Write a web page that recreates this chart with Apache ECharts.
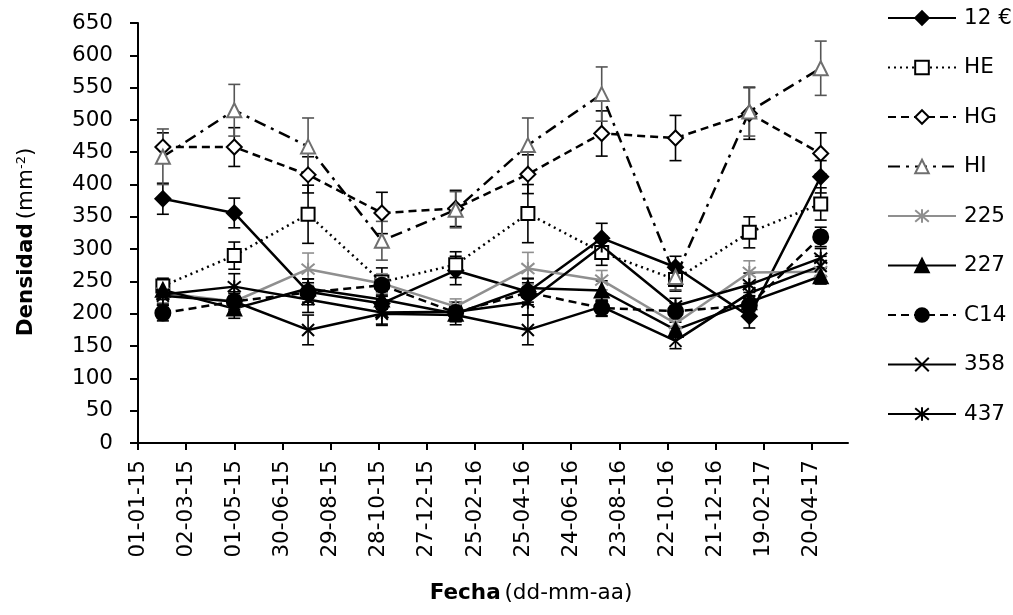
<!DOCTYPE html>
<html><head><meta charset="utf-8">
<script src="https://cdn.jsdelivr.net/npm/echarts@6/dist/echarts.min.js"></script>
<style>html,body{margin:0;padding:0;background:#fff}#c{width:1013px;height:615px}</style>
</head><body><div id="c"></div>
<script>
// ---- data ----
const sampleDates = ['2015-02-01','2015-05-01','2015-08-01','2015-11-01','2016-02-01','2016-05-01','2016-08-01','2016-11-01','2017-02-01','2017-05-01'];
const tickLabels = ['01-01-15','02-03-15','01-05-15','30-06-15','29-08-15','28-10-15','27-12-15','25-02-16','25-04-16','24-06-16','23-08-16','22-10-16','21-12-16','19-02-17','20-04-17'];
const yTicks = [0,50,100,150,200,250,300,350,400,450,500,550,600,650];

const v12  = [378, 356, 234, 216, 267, 234, 317, 272, 196, 412];
const vHE  = [243, 290, 354, 249, 276, 355, 295, 253, 326, 370];
const vHG  = [458, 458, 415, 356, 363, 416, 479, 472, 510, 448];
const vHI  = [443, 515, 459, 313, 361, 461, 540, 257, 513, 580];
const v225 = [232, 219, 269, 247, 211, 270, 252, 185, 264, 265];
const v227 = [237, 208, 239, 222, 200, 240, 236, 175, 218, 258];
const vC14 = [201, 219, 233, 244, 202, 233, 209, 204, 213, 319];
const v358 = [228, 219, 175, 200, 198, 175, 211, 158, 232, 274];
const v437 = [230, 242, 222, 202, 203, 218, 305, 212, 245, 286];

const e12  = [24, 23, 20, 18, 22, 20, 23, 17, 18, 25];
const eHE  = [12, 21, 45, 22, 20, 45, 20, 18, 24, 25];
const eHG  = [22, 30, 28, 32, 28, 30, 35, 35, 40, 32];
const eHI  = [43, 40, 44, 30, 28, 42, 42, 20, 38, 42];
const e225 = [15, 15, 25, 15, 12, 25, 15, 12, 18, 15];
const e227 = [15, 15, 15, 15, 12, 15, 15, 12, 15, 12];
const eC14 = [12, 12, 15, 15, 12, 15, 12, 12, 15, 15];
const e358 = [15, 15, 23, 18, 15, 23, 15, 12, 15, 15];
const e437 = [15, 20, 20, 18, 15, 20, 15, 12, 18, 15];

// ---- helpers ----
const DAY = 86400000;
const ORIGIN = Date.UTC(2015, 0, 1);
function isoDay(s){ const [y,m,d] = s.split('-').map(Number); return Math.round((Date.UTC(y,m-1,d)-ORIGIN)/DAY); }
function dmyDay(s){ const [d,m,y] = s.split('-').map(Number); return Math.round((Date.UTC(2000+y,m-1,d)-ORIGIN)/DAY); }
const xDays = sampleDates.map(isoDay);
const tickDays = tickLabels.map(dmyDay);
const labelByDay = {}; tickDays.forEach((d,i)=>labelByDay[d]=tickLabels[i]);

const FONT = '"DejaVu Sans"';
const FS = 21.5;
const GRAY = '#8f8f8f';
const TRI_GRAY = '#6f6f6f';
const cross = 'path://M0,0L10,10M10,0L0,10';
const star = 'path://M0,0L10,10M10,0L0,10M5,-1L5,11';

const defs = [
  {name:'12 €', v:v12, e:e12, line:'solid', lc:'#000', sym:'diamond', size:15, fill:'#000', stroke:'#000', ec:'#000'},
  {name:'HE', v:vHE, e:eHE, line:[2,4], lc:'#000', sym:'rect', size:13, fill:'#fff', stroke:'#000', ec:'#000'},
  {name:'HG', v:vHG, e:eHG, line:[8,5], lc:'#000', sym:'diamond', size:15, fill:'#fff', stroke:'#000', ec:'#000'},
  {name:'HI', v:vHI, e:eHI, line:[12,6,3,6], lc:'#000', sym:'triangle', size:14, fill:'#fff', stroke:TRI_GRAY, ec:'#555'},
  {name:'225', v:v225, e:e225, line:'solid', lc:GRAY, sym:star, size:13, fill:'none', stroke:GRAY, ec:GRAY},
  {name:'227', v:v227, e:e227, line:'solid', lc:'#000', sym:'triangle', size:14, fill:'#000', stroke:'#000', ec:'#000'},
  {name:'C14', v:vC14, e:eC14, line:[8,5], lc:'#000', sym:'circle', size:15, fill:'#000', stroke:'#000', ec:'#000'},
  {name:'358', v:v358, e:e358, line:'solid', lc:'#000', sym:cross, size:12, fill:'none', stroke:'#000', ec:'#000'},
  {name:'437', v:v437, e:e437, line:'solid', lc:'#000', sym:star, size:13, fill:'none', stroke:'#000', ec:'#000'}
];

const series = [];
defs.forEach(d => {
  series.push({
    type:'custom', name:d.name+' err', z:1, silent:true,
    data: xDays.map((x,i)=>[x, d.v[i], d.e[i]]),
    encode:{x:0, y:1},
    renderItem(params, api){
      const x = api.value(0), y = api.value(1), e = api.value(2);
      const t = api.coord([x, y+e]), b = api.coord([x, y-e]);
      const w = 6, st = {stroke:d.ec, lineWidth:1.6};
      return {type:'group', children:[
        {type:'line', shape:{x1:t[0],y1:t[1],x2:b[0],y2:b[1]}, style:st},
        {type:'line', shape:{x1:t[0]-w,y1:t[1],x2:t[0]+w,y2:t[1]}, style:st},
        {type:'line', shape:{x1:b[0]-w,y1:b[1],x2:b[0]+w,y2:b[1]}, style:st}
      ]};
    }
  });
});
defs.forEach(d => {
  series.push({
    type:'line', name:d.name, z:3,
    data: xDays.map((x,i)=>[x, d.v[i]]),
    symbol:d.sym, symbolSize:d.size, showAllSymbol:true,
    lineStyle:{color:d.lc, width:2.5, type:d.line},
    itemStyle:{color:d.fill, borderColor:d.stroke, borderWidth:2, opacity:1},
    emphasis:{disabled:true}
  });
});

const chart = echarts.init(document.getElementById('c'), null, {renderer:'canvas'});
chart.setOption({
  animation:false,
  backgroundColor:'#fff',
  textStyle:{fontFamily:FONT},
  grid:{left:138, right:165, top:23, bottom:172, containLabel:false, outerBoundsMode:'none'},
  legend:{
    data: defs.map(d=>d.name),
    orient:'vertical', left:887, top:7, padding:0,
    itemWidth:68, itemHeight:17, itemGap:27.5,
    textStyle:{fontFamily:FONT, fontSize:FS, color:'#000', padding:[0,0,0,3]},
    selectedMode:false
  },
  xAxis:{
    type:'value', min:0, max:885, interval:60,
    name:'{b|Fecha} {n|(dd-mm-aa)}', nameLocation:'middle', nameGap:139,
    nameTextStyle:{padding:[0,0,0,76], rich:{b:{fontFamily:FONT,fontSize:FS,fontWeight:'bold',color:'#000'}, n:{fontFamily:FONT,fontSize:FS,color:'#000'}}},
    axisLine:{show:true, lineStyle:{color:'#000', width:2}},
    axisTick:{show:true, inside:false, length:7, lineStyle:{color:'#000', width:2}, customValues:tickDays},
    axisLabel:{rotate:90, margin:17, fontFamily:FONT, fontSize:FS, color:'#000', customValues:tickDays,
      formatter:(v)=> labelByDay[Math.round(v)] || ''},
    splitLine:{show:false}
  },
  yAxis:{
    type:'value', min:yTicks[0], max:yTicks[yTicks.length-1], interval:50,
    name:'{b|Densidad} {n|(mm}{s|-2}{n|)}', nameLocation:'middle', nameGap:101, nameRotate:90,
    nameTextStyle:{padding:[0,18,0,0], rich:{
      b:{fontFamily:FONT,fontSize:FS,fontWeight:'bold',color:'#000'},
      n:{fontFamily:FONT,fontSize:FS,color:'#000'},
      s:{fontFamily:FONT,fontSize:13,color:'#000',verticalAlign:'top'}
    }},
    axisLine:{show:true, lineStyle:{color:'#000', width:2}},
    axisTick:{show:true, inside:false, length:8, lineStyle:{color:'#000', width:2}},
    axisLabel:{margin:25, fontFamily:FONT, fontSize:FS, color:'#000'},
    splitLine:{show:false}
  },
  series: series
});
</script></body></html>
